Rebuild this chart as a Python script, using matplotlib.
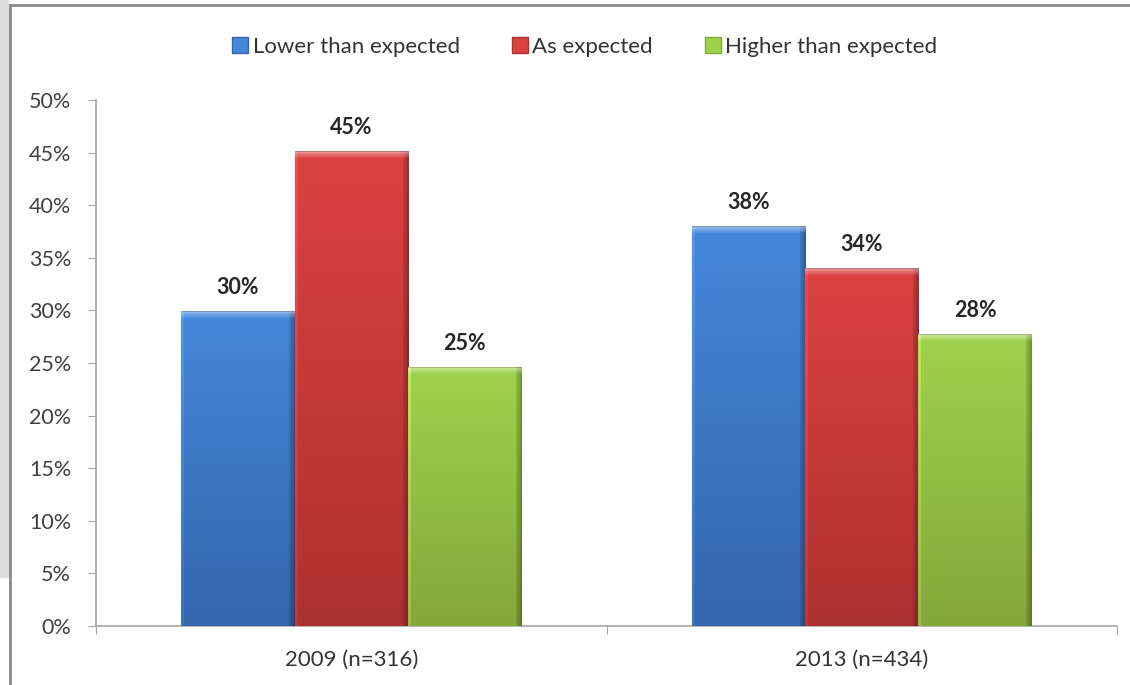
import numpy as np
import matplotlib
matplotlib.use('Agg')
import matplotlib.pyplot as plt
from matplotlib.lines import Line2D
from matplotlib.colors import to_rgb

# Survey results: how outcomes compared with expectations
categories = ['2009 (n=316)', '2013 (n=434)']
series_names = ['Lower than expected', 'As expected', 'Higher than expected']
lower = [29.9, 38.0]
as_expected = [45.1, 34.0]
higher = [24.6, 27.7]
yticks = [0, 5, 10, 15, 20, 25, 30, 35, 40, 45, 50]

# (top colour, bottom colour) per series, Excel-2007 style bevel bars
bar_colors = [('#4487d9', '#3466ab'), ('#dc4141', '#ad3131'), ('#9fd24c', '#84a83a')]

plt.rcParams['font.family'] = ['Lato', 'DejaVu Sans']

fig = plt.figure(figsize=(11.3, 6.85), dpi=100)
ax = fig.add_axes([0.085, 0.0861, 0.9035, 0.7679])

# frame around the chart area
fig.patches.append(plt.Rectangle((0, 108 / 685), 8 / 1130, 1, transform=fig.transFigure,
                                 color='#dedcdc', zorder=0))
fig.lines.append(Line2D([10 / 1130, 10 / 1130], [0, 1 - 5 / 685], transform=fig.transFigure,
                        color='#8a8a8a', lw=2))
fig.lines.append(Line2D([10 / 1130, 1], [1 - 5 / 685, 1 - 5 / 685], transform=fig.transFigure,
                        color='#8a8a8a', lw=2))

x = np.arange(len(categories))
width = 0.222
offsets = [-width, 0, width]
px_per_unit = 0.7679 * 685 / 50.0


def shade_bar(patch, top, bottom):
    x0, w, h = patch.get_x(), patch.get_width(), patch.get_height()
    ny = max(int(round(h * px_per_unit)), 2)
    nx = 113
    top, bottom = np.array(to_rgb(top)), np.array(to_rgb(bottom))
    t = np.linspace(0, 1, ny)[:, None, None]
    img = top * (1 - t) + bottom * t
    img = np.repeat(img, nx, axis=1)
    # darker right edge, light left edge
    prof = np.ones(nx)
    prof[:3] = 1.12
    prof[-6:] = np.linspace(0.9, 0.7, 6)
    img = img * prof[None, :, None]
    # light bevel on top
    bev = min(7, ny)
    for i in range(bev):
        k = 0.45 * (1 - i / bev)
        img[i] = img[i] * (1 - k) + k
    img[0] = img[0] * 0.8
    img = np.clip(img, 0, 1)
    ax.imshow(img, extent=(x0, x0 + w, 0, h), aspect='auto', zorder=3,
              interpolation='bilinear')


for vals, off, (ctop, cbot) in zip([lower, as_expected, higher], offsets, bar_colors):
    bars = ax.bar(x + off, vals, width, color=cbot, zorder=2)
    for b, v in zip(bars, vals):
        shade_bar(b, ctop, cbot)
        ax.text(b.get_x() + b.get_width() / 2, v + 1.3, '%d%%' % round(v),
                ha='center', va='bottom', fontsize=15.5, fontweight='bold', color='#262626')

ax.set_xlim(-0.5, 1.5)
ax.set_ylim(0, 50)
ax.set_yticks(yticks)
ax.set_yticklabels(['%d%%' % v for v in yticks])
ax.set_xticks([-0.5, 0.5, 1.5], minor=False)
ax.set_xticklabels([])
ax.set_xticks(x, minor=True)
ax.set_xticklabels(categories, minor=True)
ax.tick_params(axis='x', which='minor', length=0, pad=17, labelsize=16, labelcolor='#333333')
ax.tick_params(axis='x', which='major', length=6, color='#a6a6a6')
ax.tick_params(axis='y', length=6, color='#a6a6a6', labelsize=15.5, labelcolor='#404040', pad=12)

for s in ['top', 'right']:
    ax.spines[s].set_visible(False)
ax.spines['left'].set_color('#a6a6a6')
ax.spines['bottom'].set_color('#a6a6a6')
ax.spines['left'].set_linewidth(1.2)
ax.spines['bottom'].set_linewidth(1.2)

handles = [Line2D([], [], marker='s', linestyle='', markersize=11, markerfacecolor=c[0],
                  markeredgecolor=c[1]) for c in bar_colors]
fig.legend(handles, series_names, loc='center', bbox_to_anchor=(0.516, 0.931), ncol=3,
           frameon=False, fontsize=16, handletextpad=0.05, columnspacing=2.2,
           labelcolor='#333333', handlelength=1.0)

fig.savefig('out.png', dpi=100)
